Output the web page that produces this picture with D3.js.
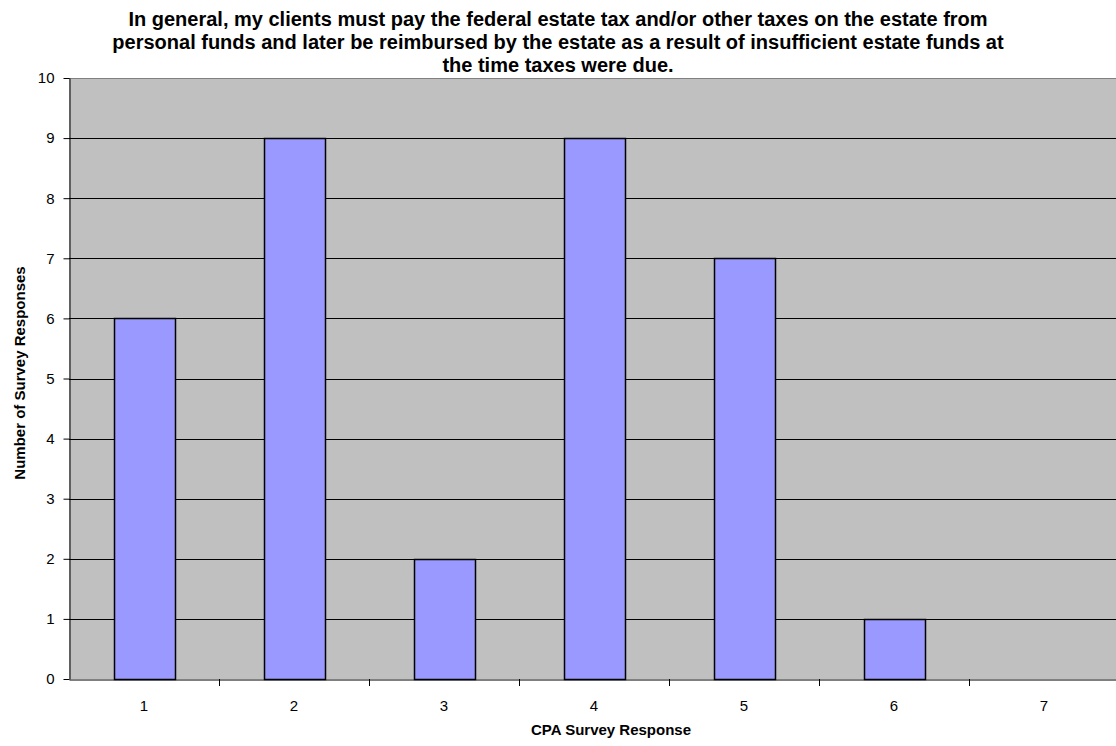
<!DOCTYPE html>
<html>
<head>
<meta charset="utf-8">
<script src="https://cdn.jsdelivr.net/npm/d3@7"></script>
<style>
  html, body { margin: 0; padding: 0; background: #ffffff; }
  svg { display: block; font-family: "Liberation Sans", Arial, sans-serif; }
</style>
</head>
<body>
<svg id="chart" width="1116" height="746"></svg>
<script>
// Survey response categories and counts
const categories = ["1", "2", "3", "4", "5", "6", "7"];
const responses = [6, 9, 2, 9, 7, 1, 0];
const yTicks = [0, 1, 2, 3, 4, 5, 6, 7, 8, 9, 10];
const titleLines = [
  "In general, my clients must pay the federal estate tax and/or other taxes on the estate from",
  "personal funds and later be reimbursed by the estate as a result of insufficient estate funds at",
  "the time taxes were due."
];

const FONT = "Liberation Sans, Arial, sans-serif";
const svg = d3.select("#chart");
const W = 1116, H = 746;
const margin = { left: 69, top: 78, right: -3, bottom: 67 };
const plotW = W - margin.left - margin.right;
const plotH = H - margin.top - margin.bottom;

const x = d3.scaleBand().domain(categories).range([margin.left, margin.left + plotW]).padding(0);
const y = d3.scaleLinear().domain([0, 10]).range([margin.top + plotH, margin.top]);
const px = v => Math.round(v) + 0.5;

// title (drawn first so the plot area sits over its last line)
svg.append("text")
  .attr("text-anchor", "middle")
  .attr("font-weight", "bold").attr("font-size", 20)
  .selectAll("tspan").data(titleLines).join("tspan")
  .attr("x", W / 2).attr("y", (d, i) => 26 + i * 23)
  .text(d => d);

// plot background
svg.append("rect")
  .attr("x", margin.left).attr("y", margin.top)
  .attr("width", plotW).attr("height", plotH)
  .attr("fill", "#c0c0c0");

// horizontal gridlines
svg.append("g").selectAll("line").data(yTicks.filter(d => d > 0 && d < 10)).join("line")
  .attr("x1", margin.left).attr("x2", margin.left + plotW)
  .attr("y1", d => px(y(d))).attr("y2", d => px(y(d)))
  .attr("stroke", "#000").attr("stroke-width", 1);

// top border of the plot area
svg.append("line")
  .attr("x1", margin.left).attr("x2", margin.left + plotW)
  .attr("y1", px(y(10))).attr("y2", px(y(10)))
  .attr("stroke", "#808080").attr("stroke-width", 1);

// bars
const bw = Math.round(x.bandwidth() * 0.41);
svg.append("g").selectAll("rect")
  .data(categories.map((c, i) => ({ c, v: responses[i] })).filter(d => d.v > 0))
  .join("rect")
  .attr("x", d => px(x(d.c) + x.bandwidth() / 2 - bw / 2))
  .attr("y", d => px(y(d.v)))
  .attr("width", bw)
  .attr("height", d => Math.round(y(0)) - Math.round(y(d.v)))
  .attr("fill", "#9999ff")
  .attr("stroke", "#000").attr("stroke-width", 1.5);

// y axis
const yAxis = svg.append("g")
  .attr("transform", `translate(${margin.left + 0.5},0)`)
  .call(d3.axisLeft(y).tickValues(yTicks).tickFormat(d3.format("d")).tickSize(6).tickSizeOuter(0).tickPadding(9));
yAxis.attr("font-size", null).attr("font-family", null);
yAxis.select(".domain").attr("stroke", "#000");
yAxis.selectAll(".tick line").attr("stroke", "#000");
yAxis.selectAll("text").attr("fill", "#000").style("font-size", "15px").style("font-family", FONT);

// x axis
const xAxis = svg.append("g")
  .attr("transform", `translate(0,${px(y(0))})`)
  .call(d3.axisBottom(x).tickSize(0).tickSizeOuter(0).tickPadding(21));
xAxis.attr("font-size", null).attr("font-family", null);
xAxis.select(".domain").attr("stroke", "#000");
xAxis.selectAll("text").attr("fill", "#000").style("font-size", "15px").style("font-family", FONT);

// category separators on the x axis
svg.append("g").selectAll("line").data(categories.slice(1)).join("line")
  .attr("x1", d => px(x(d))).attr("x2", d => px(x(d)))
  .attr("y1", Math.round(y(0))).attr("y2", Math.round(y(0)) + 7)
  .attr("stroke", "#000");

// axis titles
svg.append("text")
  .attr("x", 611).attr("y", 735)
  .attr("text-anchor", "middle").attr("font-weight", "bold").style("font-size", "15px")
  .text("CPA Survey Response");

svg.append("text")
  .attr("transform", `translate(25,${373}) rotate(-90)`)
  .attr("text-anchor", "middle").attr("font-weight", "bold").style("font-size", "15px")
  .text("Number of Survey Responses");
</script>
</body>
</html>
